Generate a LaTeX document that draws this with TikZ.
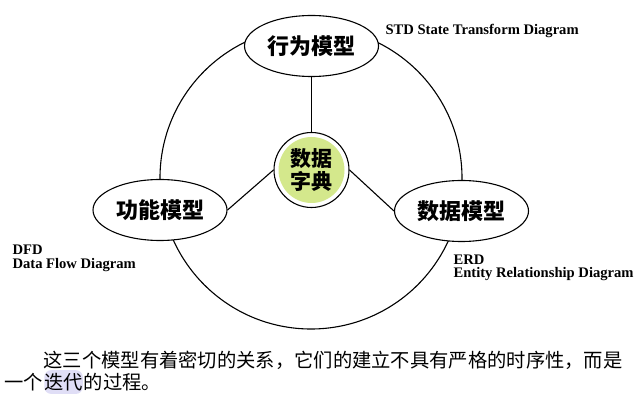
\documentclass[tikz,border=0pt]{standalone}
\usepackage{fontspec}
\setmainfont{Liberation Serif}
\newfontfamily\cjk{Noto Sans CJK SC}
\usetikzlibrary{shapes.geometric,positioning}
\definecolor{dictgreen}{RGB}{212,232,140}
\definecolor{markblue}{RGB}{224,222,246}

\begin{document}
\begin{tikzpicture}[%
x=1pt, y=-1pt,
on grid,
line width=1.1pt,
model/.style={ellipse, draw, fill=white, minimum width=134pt, minimum height=61pt, inner sep=0pt, font=\cjk\bfseries\fontsize{22}{24}\selectfont},
dict/.style={circle, draw, fill=white, minimum size=75pt, inner sep=0pt, align=center, font=\cjk\bfseries\fontsize{21}{23}\selectfont,
  path picture={\fill[dictgreen] (path picture bounding box.center) circle (33pt);}},
note/.style={anchor=base west, inner sep=0pt, align=left, font=\bfseries\fontsize{14.6}{13.5}\selectfont},
para/.style={inner sep=0pt, font=\cjk\fontsize{19.3}{22}\selectfont}
]
\useasboundingbox (0,0) rectangle (637,411);
\draw (311,178) circle [radius=151pt];
\node[dict] (dd) at (311.5,170) {数据\\字典};
\node[model] (beh) [above=124pt of dd] {行为模型};
\node[model] (func) [below left=40pt and 151.5pt of dd] {功能模型};
\node[model] (datm) [below right=41pt and 150pt of dd] {数据模型};
\draw (beh) -- (dd);
\draw (func.east) -- (dd.west);
\draw (dd.east) -- (datm.west);
% labels, last line on the base
\node[note] (std) at (385,34.5) {STD State Transform Diagram};
\node[note] (dfd) at (12,268.5) {DFD\\Data Flow Diagram};
\node[note] (erd) at (453,278) {ERD\\Entity Relationship Diagram};
\node[para, anchor=west] (txta) at (43,360) {这三个模型有着密切的关系，它们的建立不具有严格的时序性，而是};
\node[para, anchor=west] (txtb) at (4,382) {一个};
\node[para, on grid=false, base right=0pt of txtb, fill=markblue, rounded corners=7pt, inner ysep=3pt] (txtc) {迭代};
\node[para, on grid=false, base right=0pt of txtc] (txtd) {的过程。};
\end{tikzpicture}
\end{document}
